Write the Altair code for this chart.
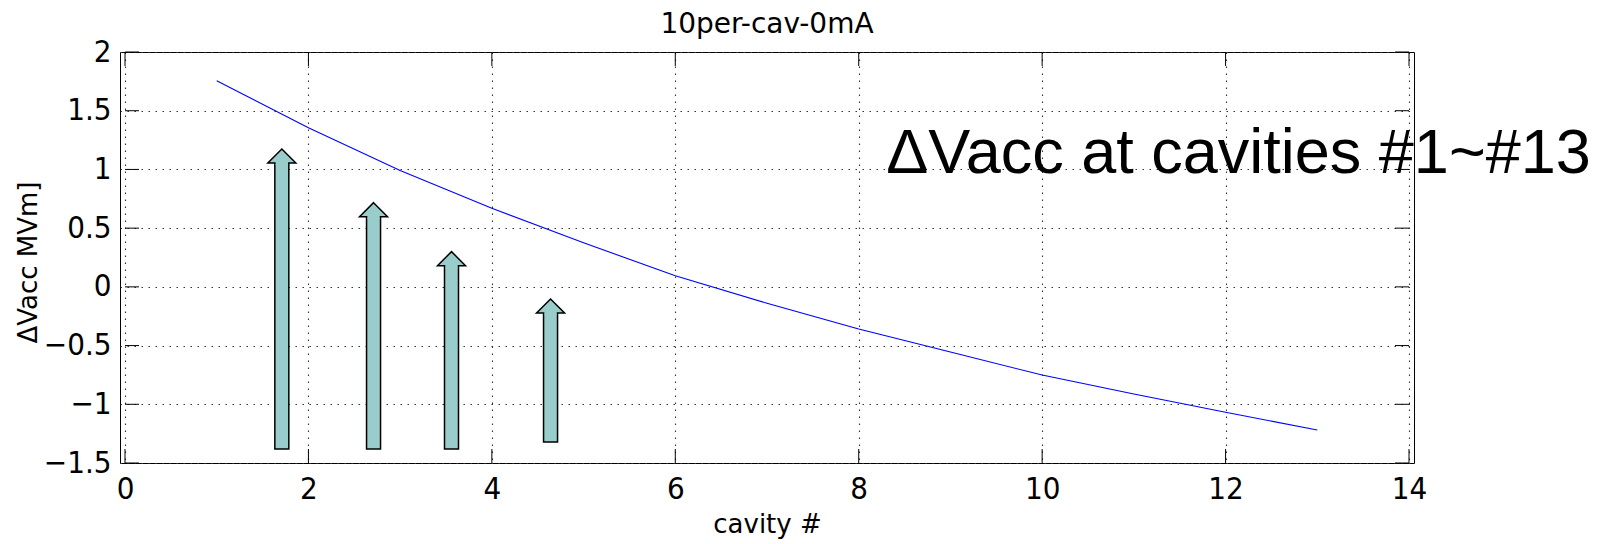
import altair as alt
import pandas as pd

# ---- data ----
cavity = [1, 2, 3, 4, 5, 6, 7, 8, 9, 10, 11, 12, 13]
dvacc = [1.756, 1.355, 0.99, 0.669, 0.375, 0.095, -0.14, -0.359, -0.555,
         -0.751, -0.912, -1.068, -1.219]

arrow_x = [1.71, 2.71, 3.56, 4.64]
arrow_tip = [1.174, 0.717, 0.300, -0.103]
arrow_bottom = [-1.381, -1.381, -1.381, -1.321]

x_ticks = [0, 2, 4, 6, 8, 10, 12, 14]
y_ticks = [-1.5, -1, -0.5, 0, 0.5, 1, 1.5, 2]

title_text = ["10per-cav-0mA"]
x_title = "cavity #"
y_title = "\u0394Vacc MVm]"
note_text = ["\u0394Vacc at cavities #1~#13"]
note_x = [8.30]
note_y = [0.97]

# ---- tables ----
curve_df = pd.DataFrame({"cavity": cavity, "dvacc": dvacc})
arrow_df = pd.DataFrame({"ax": arrow_x, "tip": arrow_tip, "bottom": arrow_bottom})
note_df = pd.DataFrame({"t": note_text, "nx": note_x, "ny": note_y})
title_df = pd.DataFrame({"t": title_text,
                         "tx": [(x_ticks[0] + x_ticks[-1]) / 2],
                         "ty": [y_ticks[-1]]})
xt_df = pd.DataFrame({"v": x_ticks, "lo": [y_ticks[0]] * len(x_ticks),
                      "hi": [y_ticks[-1]] * len(x_ticks)})
yt_df = pd.DataFrame({"v": y_ticks, "lo": [x_ticks[0]] * len(y_ticks),
                      "hi": [x_ticks[-1]] * len(y_ticks)})

xs = alt.Scale(domain=[x_ticks[0], x_ticks[-1]], nice=False, zero=False)
ys = alt.Scale(domain=[y_ticks[0], y_ticks[-1]], nice=False, zero=False)

TICK_FONT = "'Liberation Sans Narrow', 'DejaVu Sans Condensed', 'Liberation Sans', sans-serif"
TITLE_FONT = "DejaVu Sans"
ARROW_FILL = "#99cdcc"

line = alt.Chart(curve_df).mark_line(color="#0000ff", strokeWidth=1.1).encode(
    x=alt.X("cavity:Q", scale=xs,
            axis=alt.Axis(values=x_ticks, format="d", title=x_title,
                          titleY=69, titleBaseline="alphabetic",
                          labelPadding=11)),
    y=alt.Y("dvacc:Q", scale=ys,
            axis=alt.Axis(values=y_ticks, format="~g", title=y_title,
                          titleX=-84, titleY=210, titleBaseline="alphabetic",
                          titleAngle=-90, titleAlign="center",
                          labelPadding=9)),
)


def X(f):
    return alt.X(f, scale=xs)


def Y(f):
    return alt.Y(f, scale=ys)


shaft = alt.Chart(arrow_df).mark_bar(
    size=14, fill=ARROW_FILL, stroke="black", strokeWidth=1.5,
    y2Offset=14, orient="vertical", opacity=1
).encode(x=X("ax:Q"), y=Y("bottom:Q"), y2="tip:Q")

head = alt.Chart(arrow_df).mark_point(
    shape="M0,-0.5L1,0.5L-1,0.5Z", size=784, filled=True, fill=ARROW_FILL,
    stroke="black", strokeWidth=1.5, opacity=1, fillOpacity=1,
    strokeOpacity=1, yOffset=7
).encode(x=X("ax:Q"), y=Y("tip:Q"))

cover = alt.Chart(arrow_df).mark_bar(
    size=12.4, fill=ARROW_FILL, strokeWidth=0, yOffset=16, y2Offset=11,
    orient="vertical", opacity=1
).encode(x=X("ax:Q"), y=Y("tip:Q"), y2="tip:Q")

tick_kw = dict(size=14, thickness=1, color="black", opacity=1)
tb = alt.Chart(xt_df).mark_tick(orient="vertical", yOffset=-7, **tick_kw).encode(
    x=X("v:Q"), y=Y("lo:Q"))
tt = alt.Chart(xt_df).mark_tick(orient="vertical", yOffset=7, **tick_kw).encode(
    x=X("v:Q"), y=Y("hi:Q"))
tl = alt.Chart(yt_df).mark_tick(orient="horizontal", xOffset=7, **tick_kw).encode(
    y=Y("v:Q"), x=X("lo:Q"))
tr = alt.Chart(yt_df).mark_tick(orient="horizontal", xOffset=-7, **tick_kw).encode(
    y=Y("v:Q"), x=X("hi:Q"))

note = alt.Chart(note_df).mark_text(
    font="Liberation Sans", fontSize=63, align="left", baseline="alphabetic",
    color="black"
).encode(x=X("nx:Q"), y=Y("ny:Q"), text="t:N")

title = alt.Chart(title_df).mark_text(
    font=TITLE_FONT, fontSize=28, align="center", baseline="alphabetic",
    color="black", dy=-19
).encode(x=X("tx:Q"), y=Y("ty:Q"), text="t:N")

chart = alt.layer(line, shaft, head, cover, tb, tt, tl, tr, note, title).properties(
    width=1294, height=411,
    background="white",
    autosize=alt.AutoSizeParams(type="none"),
    padding={"left": 120, "top": 52, "right": 198, "bottom": 81},
).configure_view(
    stroke="black", strokeWidth=1
).configure_axis(
    labelFont=TICK_FONT, labelFontSize=31, labelColor="black",
    titleFont=TITLE_FONT, titleFontSize=26, titleFontWeight="normal",
    titleColor="black", ticks=False, tickSize=0, domain=False,
    labelFlush=False, labelOverlap=False,
    grid=True, gridColor="#333333", gridDash=[1.5, 5.5], gridWidth=1.1,
    gridOpacity=1,
)

chart.save("out.html", embed_options={"renderer": "svg", "actions": False})
